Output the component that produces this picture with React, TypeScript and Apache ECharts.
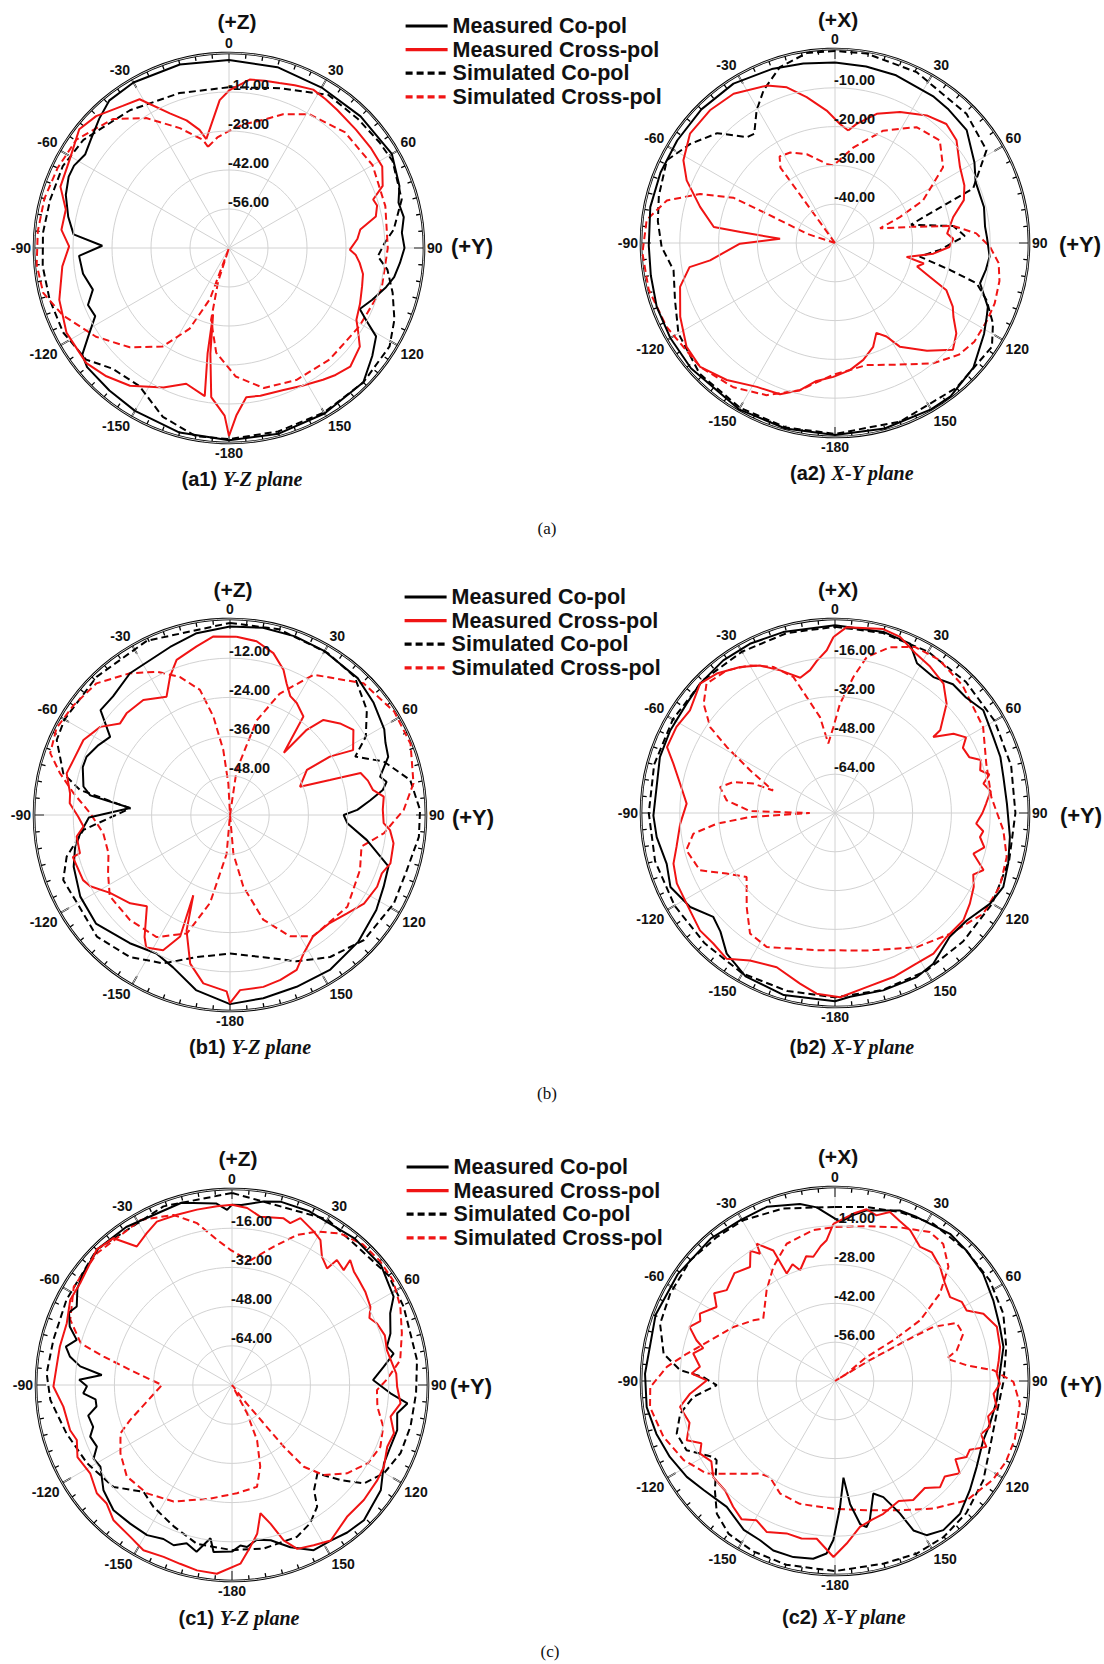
import React, { useEffect, useRef } from 'react';
import * as echarts from 'echarts';

// ---------- data: [angle (deg), level (dB)] ----------
// (a1) Y-Z plane, radial ticks every 14 dB
const a1MeasCo: number[][] = [[0,-2.5],[15,-2.8],[30,-3.5],[45,-3.2],[60,-2.5],[66,-4.2],[70,-4.9],[75,-7],[80,-6.3],[85,-7.7],[90,-7],[95,-8.4],[100,-9.8],[104,-11.9],[110,-15.4],[115,-18.2],[118,-14],[121,-8.4],[127,-5.6],[135,-1.8],[150,-1.4],[165,-1],[180,-1],[-165,-1.4],[-150,-2.5],[-140,-3.2],[-130,-3.5],[-126,-4.9],[-122,-10.5],[-117,-16.1],[-112,-15.4],[-107,-18.9],[-100,-16.8],[-93,-16.1],[-89,-24.5],[-85,-14],[-79,-11.2],[-72,-8.4],[-66,-7],[-62,-7],[-57,-8.4],[-52,-7],[-45,-4.2],[-39,-1.8],[-30,-1.4],[-15,-1.8],[0,-2.5]];
const a1MeasCross: number[][] = [[-11.8,-30.1],[-3.6,-16.8],[0.2,-13.3],[7,-9.1],[12,-8.6],[17,-8.1],[22,-7],[28,-5.6],[33,-6.3],[38,-7],[47,-7.7],[55,-7.7],[62,-7.7],[68,-10.5],[71.4,-15.4],[74,-14.7],[77.9,-16.1],[82,-22.4],[86,-23.8],[90.8,-26.6],[93,-24.5],[96.5,-22.8],[101,-21],[106,-20.3],[110,-19.6],[113,-18.9],[119.4,-17.5],[123,-14.7],[127,-11.2],[134.4,-9.1],[140,-10.5],[144.5,-11.9],[152,-14],[159,-15.4],[168,-15.8],[173.4,-16.1],[177.5,-9.8],[180,-2.5],[-178.5,-9.8],[-173.2,-16.1],[-170,-31.5],[-166.5,-45.5],[-168.5,-31.5],[-170.7,-16.1],[-162.5,-18.9],[-154.8,-14.7],[-144.3,-9.1],[-136.3,-6.3],[-128.9,-4.2],[-117.6,-4.2],[-107,-6.3],[-96.3,-9.8],[-89.4,-12.6],[-83.8,-9.5],[-76.7,-9.8],[-70,-5.6],[-61,-4.6],[-51.6,-1.4],[-45.2,-2.8],[-36.8,-6.3],[-31,-7.7],[-23.7,-17.2],[-18.4,-21.7],[-14,-26.3],[-11.8,-30.1]];
const a1SimCo: number[][] = [[0,-12.3],[17.6,-9.8],[33,-4.5],[45,-4.5],[55,-4],[62,-3.5],[74.3,-5.6],[83.6,-10.5],[88,-14],[93.2,-16.5],[97.8,-12.6],[105.3,-9.1],[113.4,-5.3],[121.5,-2.4],[135,-1.8],[150,-1.8],[165,-1.8],[180,-1.4],[-170,-1.4],[-158.6,-4.9],[-147,-10.9],[-136,-9.8],[-128,-4.9],[-117,-3.2],[-106,-3],[-95.6,-2.8],[-85.4,-3],[-74.9,-3.5],[-63.8,-3.5],[-53.4,-4.9],[-35.7,-9.1],[-17.7,-11.6],[0,-12.3]];
const a1SimCross: number[][] = [[-11.7,-32.9],[-6,-30.1],[0,-28],[7,-25.2],[15,-22.4],[22,-18.2],[31,-14],[45,-11.2],[60,-10.5],[75,-11.9],[90,-13],[105,-13.3],[121,-15.4],[138,-16.1],[153,-16.8],[166,-18.2],[177,-23.8],[-173,-32.2],[-166,-43.4],[-162,-57.4],[-160,-70],[-159.5,-50.4],[-154,-37.8],[-146,-27.3],[-135,-19.6],[-123.7,-12.6],[-112,-5.6],[-103.6,-1.4],[-95,-0.7],[-85,-1.1],[-75,-1.4],[-65,-2.1],[-54.6,-2.8],[-42,-7.7],[-32.5,-14.7],[-22.3,-23.5],[-13.5,-30.1],[-11.7,-32.9]];

// (a2) X-Y plane, radial ticks every 10 dB
const a2MeasCo: number[][] = [[0,-3.5],[-10,-3],[-20,-2.3],[-32.5,-1.3],[-45,-1.3],[-57,-1.5],[-68,-1.5],[-79,-1.5],[-90.8,-2],[-100,-1.8],[-109.7,-1.2],[-120,-1],[-131,-0.8],[-150,-0.5],[-165,-0.5],[180,-0.5],[165,-0.5],[150,-0.5],[143,-0.5],[132,-2],[121.4,-5],[116,-6.5],[112.7,-7.3],[108,-10],[105.5,-11.2],[100,-10.5],[95,-10],[88,-10.8],[83.8,-11.1],[76.4,-10.5],[66.6,-10.5],[60,-8.5],[49.4,-5.3],[40,-4.8],[34,-4.5],[20,-4],[10,-3.8],[0,-3.5]];
const a2MeasCross: number[][] = [[6.7,-20.8],[10.3,-18.8],[17.9,-15],[26.4,-12.3],[35.7,-9.5],[43.1,-8],[49.8,-9],[58.7,-12.3],[66,-13.5],[71.6,-15],[77.6,-18.8],[85.2,-21],[88,-19.5],[92,-20.5],[96.2,-24.5],[101,-31.2],[103,-26.5],[106,-28],[109.7,-24],[113,-18.8],[118.4,-15.5],[122,-14],[126.7,-11],[132.2,-9],[139.5,-13.5],[148,-18.5],[151.2,-22.5],[155.3,-24.5],[159.8,-21.5],[166.4,-19],[173.3,-17],[-179.3,-15.5],[-172,-14],[-166.6,-11],[-160,-8.5],[-151.5,-7.8],[-141.7,-5],[-132.6,-2.8],[-125,-3.3],[-115.5,-5.8],[-105.8,-8.5],[-99.4,-12],[-97.9,-17.5],[-90.4,-25.5],[-85.5,-35.8],[-83.4,-25.5],[-82.5,-18.5],[-75,-14],[-67.1,-8.5],[-61.4,-5.5],[-53,-3.2],[-43.3,-3],[-34.2,-3.5],[-23.4,-5.8],[-17.2,-8],[-11,-11.7],[-3.6,-15.8],[2.4,-19.3],[6.7,-20.8]];
const a2SimCo: number[][] = [[0,-0.5],[-8.4,-0.5],[-17.4,-2.5],[-25,-6.5],[-30.6,-10.3],[-36.5,-15],[-39.8,-14.5],[-47,-8.5],[-55.6,-4.8],[-63.8,-1.7],[-75,-3],[-83,-4],[-91.3,-5.3],[-99.6,-7.8],[-109.7,-6.2],[-120,-3.4],[-134,-1.5],[-150,-1],[-165,-0.8],[180,-0.8],[160,-1],[140,-1.3],[123.5,-1.5],[117,-4.3],[110.6,-8.3],[105.9,-12],[103.2,-19.5],[99.1,-27.9],[93.8,-22.9],[86.9,-16.5],[81.8,-19.2],[76.5,-30],[68.4,-11.7],[58.5,-4.2],[45.5,-2.5],[25.5,-1.2],[9.5,-0.5],[0,-0.5]];
const a2SimCross: number[][] = [[-50,-50],[-36,-50],[-35.9,-26],[-32.6,-23.5],[-26.3,-24],[-17.6,-26],[-6,-29.5],[-1.2,-30],[10.8,-25],[23.2,-18.5],[35.1,-13.5],[45.6,-12.2],[55,-16],[64.2,-24.8],[68.2,-32],[72,-37.8],[78,-30],[81.8,-19.2],[86.1,-13.5],[91.5,-10],[97,-7.5],[103,-6.5],[110.7,-6],[117,-6],[125.3,-6],[132,-7],[140.8,-10],[152,-14.5],[165.5,-17.5],[-179,-16],[-166.6,-11],[-155.8,-7],[-144.8,-4.5],[-132.6,-2.8],[-116.5,-1.5],[-104,-0.5],[-93,-0.3],[-83,-1.1],[-75.8,-5.3],[-70,-13],[-66,-21.3],[-66.8,-31],[-71.8,-42.5],[-60,-50],[-50,-50]];

// (b1) Y-Z plane, radial ticks every 12 dB
const b1MeasCo: number[][] = [[0,-2.3],[10,-1.8],[20,-1.8],[30,-2.1],[43,-2.7],[52,-4.2],[61,-6],[65,-7.5],[69.8,-8.4],[75.7,-12.6],[78,-11],[80.7,-12.6],[84,-16.8],[87.7,-21],[90,-25.2],[94,-24],[100.4,-17.4],[108,-9],[115,-8.1],[123,-6.6],[134.6,-4.8],[147,-3.6],[158.8,-3.6],[169.7,-3],[180,-2.1],[-169,-5.4],[-159.5,-10.2],[-152,-12],[-142,-10.2],[-129,-7.2],[-118.6,-7.8],[-108.3,-9.6],[-102,-11.5],[-97,-13.8],[-91,-16.8],[-86,-29.4],[-82,-16.8],[-79,-14.3],[-72,-12.6],[-67.9,-12.6],[-62,-14.4],[-56.9,-16.2],[-51,-9],[-44.6,-9],[-35.2,-6.9],[-19.6,-5.4],[-10.4,-3.4],[0,-2.3]];
const b1MeasCross: number[][] = [[2.1,-5.4],[8.7,-6.2],[15,-8.7],[20.2,-12.6],[23.3,-16.2],[26.9,-19.2],[30.8,-20.1],[36.7,-22.4],[40.9,-34.8],[42,-24.9],[44.5,-19.2],[50.2,-16.2],[55.4,-14.1],[62.2,-17.4],[59.7,-24.6],[59.6,-32.7],[68,-36.9],[70.7,-27.6],[72.2,-18],[76,-16.5],[80,-15.6],[83.2,-12.6],[88,-13.2],[93,-12.9],[95.4,-10.8],[99.8,-9.2],[106.8,-8.7],[111,-10.2],[116,-9.9],[123.5,-10.8],[130,-13.2],[137.3,-15],[145.6,-15],[152,-12],[156.7,-8.4],[163,-7.2],[169,-6.4],[176.7,-6.3],[180,-2.4],[-178.9,-6],[-171,-7.8],[-165,-12.9],[-159.4,-22.2],[-155.4,-33],[-157.7,-19.8],[-153.7,-13.8],[-147.7,-12],[-145,-14.4],[-137.7,-22.2],[-131.5,-19.2],[-123,-16.2],[-117,-12],[-113.9,-10.8],[-105,-10.2],[-104.3,-12.6],[-98,-12.6],[-94.5,-15],[-90.6,-13.5],[-85.8,-10.8],[-82.3,-10.6],[-75.7,-8.4],[-70.7,-9.2],[-62.9,-9.6],[-55.8,-12],[-50.2,-16.2],[-45.5,-15.6],[-37,-15.9],[-28.2,-18.9],[-23.4,-13.8],[-19,-9.8],[-11.2,-7.4],[-5.3,-5.1],[2.1,-5.4]];
const b1SimCo: number[][] = [[0,-1.2],[14.7,-1.2],[31,-2.1],[42,-3],[52.5,-7.2],[60,-12],[65,-17.7],[70.8,-10.2],[79,-3.8],[88.5,-1.8],[96.6,-1.8],[107.3,-3.3],[118.4,-3],[133,-3.9],[144.8,-6.8],[155.6,-10.8],[166.8,-15.3],[180,-17.6],[-166.8,-15.3],[-155.8,-10.2],[-144.8,-6.8],[-132.4,-4.8],[-120.5,-6],[-111.3,-5.2],[-104.3,-8.4],[-95.8,-14.9],[-86.2,-29.4],[-80.5,-13.4],[-76,-7.4],[-66.6,-2.2],[-60,-1.5],[-44,-1.2],[-25.5,-0.9],[0,-1.2]];
const b1SimCross: number[][] = [[0,-60],[3,-60],[8.4,-46.2],[15.7,-30],[22.3,-19.8],[30.8,-10],[45.4,-2.6],[57.8,-0.6],[68.5,-0.6],[80.2,-3],[88.3,-6.8],[96.8,-12.6],[103.5,-18.6],[112.9,-16.8],[128,-14.4],[145.6,-15],[153.7,-18.6],[162.4,-26.4],[169.5,-37.8],[175,-48],[180,-60],[-175,-48],[-167.2,-32.4],[-160,-21.4],[-149,-16.4],[-136.4,-15.6],[-124,-15.6],[-115.6,-18.6],[-107.5,-21],[-98.2,-20.8],[-89.3,-17.2],[-82,-11.6],[-76.2,-6.4],[-71,-1.8],[-63.4,-0.6],[-55,-1.5],[-45.4,-2.6],[-35.2,-6.9],[-27,-10.8],[-20,-15],[-13.5,-20.6],[-9.6,-29.4],[-5.9,-40],[-3,-50.4],[0,-60]];

// (b2) X-Y plane, radial ticks every 16 dB
const b2MeasCo: number[][] = [[0,-2.6],[15,-2.7],[23.9,-3.6],[28.7,-9.6],[35.9,-10.8],[42.5,-8],[48.6,-8],[55.3,-5.6],[64.4,-7.6],[71.3,-8],[78,-9],[86.9,-9],[97.8,-7.2],[106.3,-5.6],[113.7,-4.2],[120.3,-5.9],[129.2,-9.9],[137.2,-10.4],[146.9,-5.8],[153.5,-4.4],[164.8,-4.2],[175.3,-4],[180,-2.4],[-164.3,-2],[-151.3,-3.2],[-142.4,-6.8],[-136,-12],[-130.5,-14],[-123,-8.8],[-114.2,-5.6],[-106.8,-7.5],[-97.7,-5.8],[-90.8,-5.1],[-80.7,-5.6],[-72.3,-4.2],[-63.4,-4],[-53.6,-4],[-46.2,-2.9],[-36.2,-2],[-26.7,-1.9],[-16,-2.4],[0,-2.6]];
const b2MeasCross: number[][] = [[-0.5,-7.4],[3.6,-3.2],[14.7,-1.6],[20.3,-2.6],[27.1,-6.4],[33,-8],[40,-10.4],[45.6,-15.6],[51.8,-24.8],[52.3,-28.8],[56.2,-21.2],[60,-17.6],[63,-20.8],[67.5,-20],[70,-16],[73.6,-17.6],[76,-14.4],[78.8,-17.6],[82,-15.2],[86.5,-17.6],[90,-19.2],[94.3,-21.6],[97,-18.4],[99.4,-19.4],[103,-16.8],[106.4,-20.5],[111,-14.4],[114,-17.6],[118,-15.2],[123.9,-13],[129.9,-11],[138,-11.2],[145,-9.2],[151.5,-9.4],[160.4,-8.2],[169.7,-7],[178.4,-4],[-174.2,-5.1],[-168.4,-8.2],[-159.3,-12],[-150,-9.8],[-143.4,-5.1],[-137,-6.4],[-131,-6.2],[-121.4,-8.3],[-114,-8.6],[-107.4,-10.2],[-102,-13.2],[-94,-16],[-86.4,-18.7],[-79.3,-15],[-73,-10.3],[-68.6,-5.6],[-61.5,-5.6],[-54.7,-6.7],[-46.2,-2.9],[-40.3,-4.6],[-33,-8.2],[-27,-11.7],[-21,-17],[-14.4,-22.4],[-9.9,-20.2],[-6.8,-16.8],[-2.9,-12.8],[-0.5,-7.4]];
const b2SimCo: number[][] = [[0,-3.2],[15,-3.2],[30,-3.2],[45,-3.6],[60,-4],[75,-4.8],[90,-5.6],[105,-5.6],[120,-5.2],[135,-5.2],[150,-4.8],[165,-4.4],[180,-4],[-165,-4],[-150,-3.6],[-135,-4],[-120,-3.6],[-105,-3.2],[-90,-3.2],[-75,-2.8],[-60,-2.8],[-45,-2.8],[-30,-3.2],[-15,-3.2],[0,-3.2]];
const b2SimCross: number[][] = [[-5.5,-51.2],[-1.1,-44.6],[2.6,-34.9],[7.7,-23.4],[11.5,-14.4],[18.3,-8],[25.7,-4],[34.2,-3.6],[45,-5.6],[59.9,-9.4],[72,-14.4],[84.2,-15.2],[95.9,-10.2],[104.4,-6.9],[114,-5.6],[124.2,-6.1],[136.4,-11.2],[148.6,-15.2],[167,-21.8],[-172.4,-22.9],[-153,-18],[-144.8,-19.2],[-136.8,-26.8],[-125.9,-35],[-119.2,-28.8],[-113,-19.5],[-104,-16.8],[-98.3,-21],[-95.2,-31],[-92.7,-44.8],[-90,-69.6],[-88.7,-44.8],[-83.3,-35],[-77.3,-31.4],[-73,-36.2],[-70.2,-44.2],[-70,-52.8],[-63.3,-40.8],[-58.6,-27.7],[-55.5,-17.6],[-50.3,-9.6],[-44.8,-4.8],[-37.2,-6.2],[-29.9,-9.8],[-22.9,-14.6],[-17,-21.4],[-13.7,-30.8],[-8.9,-40],[-5.5,-51.2]];

// (c1) Y-Z plane, radial ticks every 16 dB
const c1MeasCo: number[][] = [[0,-6.4],[-1.6,-8.5],[-5,-5.6],[-15.5,-2.8],[-33.8,-2.4],[-44.3,-2],[-53,-4],[-58,-5.6],[-63.2,-9],[-66,-7.2],[-70.2,-9.6],[-73.8,-14],[-77,-10.4],[-80,-12.8],[-83,-17.6],[-85.6,-26.7],[-88,-17.6],[-90.5,-20.8],[-93.2,-19.2],[-96,-24],[-99,-24],[-102,-20],[-106.8,-20.8],[-110,-18.4],[-114.5,-19.4],[-118,-16],[-121.8,-16.8],[-129.3,-12.2],[-136.6,-9.6],[-143.7,-9.8],[-150.5,-9.6],[-156,-11.2],[-160,-10.4],[-164,-12.8],[-168,-10.4],[-172,-16.8],[-173.7,-11.4],[180,-12],[177,-14.4],[174.7,-13.6],[171,-16],[166,-14.7],[160.2,-9.6],[153.7,-4.8],[147.6,-4.8],[142,-3.6],[135.7,-2.9],[125.3,-5.6],[117.3,-10.2],[111.3,-10.6],[105.3,-10.1],[99.7,-11.6],[96,-8],[93,-15.2],[88,-22.4],[83.1,-17.6],[79,-12.8],[76,-14.8],[72,-12],[65.6,-9.1],[61.3,-4.8],[51.3,-2],[40,-2],[24,-2.4],[14.8,-2.6],[9.8,-4],[3,-6.4],[0,-6.4]];
const c1MeasCross: number[][] = [[0,-6.4],[4.9,-7.5],[9.6,-10.4],[17.2,-8.8],[19.8,-9.8],[22.3,-6.4],[28,-9],[31.4,-10.7],[35,-16],[39.2,-18.6],[40,-13.4],[44.2,-14.6],[43.4,-9.8],[47,-12],[50.3,-12.8],[55,-13.6],[60.5,-15.1],[64,-17.6],[67,-15.7],[72,-14.4],[77.3,-15.2],[81,-14.4],[86,-12.8],[90.6,-12.6],[96.2,-10.8],[101.3,-14],[106.6,-11],[111.7,-11.8],[118.3,-9.6],[123.2,-9.1],[131.1,-8.6],[138.9,-8.6],[147.6,-4.8],[153,-6.6],[158.3,-8],[161.6,-13.2],[164.5,-21.3],[167.5,-26.4],[170.4,-18.4],[173.5,-13.6],[177.3,-7],[-175.4,-2.7],[-169.3,-3],[-163.8,-4],[-158.3,-4.5],[-151.8,-3.5],[-146.2,-5.4],[-138.8,-6.6],[-133.4,-9.6],[-128.7,-9.3],[-121.9,-11.8],[-115,-10.4],[-109.5,-12.8],[-105.6,-11.4],[-97.3,-10.6],[-90.5,-7.1],[-84,-8],[-77.4,-8],[-69.5,-8],[-62.3,-5.4],[-56.2,-5.4],[-45,-1.9],[-38.9,-3],[-34.5,-11.4],[-29.3,-8.9],[-24.7,-6.6],[-17.9,-7],[-11.3,-7],[-4.8,-6.8],[0,-6.4]];
const c1SimCo: number[][] = [[0,-1.6],[-21,-1.9],[-45,-1.9],[-62.7,-4],[-75.8,-4.8],[-86.4,-4.2],[-94.7,-5.6],[-106.3,-9.6],[-118.4,-12.8],[-130.7,-16.2],[-140.4,-23.4],[-147.2,-20.8],[-157.6,-17.6],[-167.5,-13.6],[180,-12.6],[169,-12],[156.8,-12.6],[150.5,-15.2],[145,-19.4],[142,-25.6],[136,-29.8],[131.2,-21.1],[126.7,-12.8],[120,-8.2],[112,-5.8],[103,-5.2],[92.6,-4.8],[82.3,-3.8],[65.5,-3],[55,-2],[30,-2],[0,-1.6]];
const c1SimCross: number[][] = [[8,-28.8],[16.8,-21],[23.4,-13.3],[29,-8.4],[35.5,-4],[42.9,-1.6],[49.9,-1.2],[57,-1.6],[65,-4.2],[73,-7.5],[81.6,-10.6],[88,-16.8],[92,-20.8],[98.5,-20],[105.4,-16],[112.6,-14.4],[120,-16],[127.5,-20.8],[134.5,-27.6],[138.7,-35.6],[140,-47.2],[140.4,-59.7],[142,-72],[146,-80],[152,-66.9],[155.6,-55.2],[160.9,-44.8],[166.2,-37.2],[177.4,-35.8],[-169.2,-32.8],[-153.4,-26.8],[-141.9,-23.8],[-131,-23.1],[-121.5,-26.6],[-113.4,-30.4],[-109,-36],[-90,-51.4],[-81.6,-38],[-77.5,-26.4],[-74.6,-16],[-68,-8.8],[-58.2,-4],[-45.7,-3],[-29,-3],[-19,-6.6],[-12.2,-12.4],[-5.9,-20.4],[-0.7,-24.8],[8,-28.8]];

// (c2) X-Y plane, radial ticks every 14 dB
const c2MeasCo: number[][] = [[0,-11.4],[1.8,-12.6],[6.3,-9.8],[10.5,-7.4],[20.8,-4.2],[26.5,-3.9],[38,-2.6],[45.2,-3.2],[54.1,-4],[63,-5.9],[71.9,-7.4],[78.6,-8],[87.5,-10.5],[96.8,-11.2],[105.4,-12],[111.8,-12.4],[121.3,-10.2],[129,-7.4],[136.7,-4.2],[144,-3.5],[149.3,-5.3],[152.3,-9.1],[153.9,-16.8],[157.4,-24.6],[161.2,-27.1],[166,-18.2],[167.8,-16.1],[170,-17.5],[173,-25.2],[175,-35],[177.7,-24.5],[-179.4,-12.6],[-177.2,-7.7],[-173,-5.4],[-166.7,-4.7],[-160,-4.9],[-154.8,-6.5],[-148.5,-7],[-139.3,-10.1],[-129.7,-8.4],[-122.9,-6.3],[-114.7,-4.4],[-106.5,-2.8],[-97.9,-1.4],[-87.8,-1.4],[-69.7,-1],[-55.9,-1.4],[-41,-1.8],[-30.6,-2.7],[-21.4,-2.5],[-11.2,-4.9],[-6,-7],[0,-11.4]];
const c2MeasCross: number[][] = [[-0.6,-13.3],[6.3,-9.2],[10.4,-7],[14,-8.4],[18,-5.9],[22,-7.7],[26.5,-9.2],[32.4,-12.7],[37,-11.9],[42.6,-14],[48,-16.8],[53.9,-18.6],[58,-16.1],[61.8,-16.1],[65.6,-11.2],[71.5,-8.4],[78.4,-9.2],[83,-10.5],[87.4,-11.6],[91,-10.5],[94.6,-12.6],[99.1,-10.9],[103,-13.3],[106.5,-11.7],[110,-14],[113.5,-10.4],[117,-15.4],[120,-15.2],[123,-18.2],[126.5,-14],[131,-17.5],[135.3,-16.1],[140,-19.6],[146.7,-18.6],[152,-21],[160,-19],[165,-18.2],[170.3,-16.6],[175.9,-11.2],[-179.5,-6.5],[-173.4,-12.7],[-168,-11.9],[-162.4,-12.3],[-155.7,-10.2],[-150.6,-12.3],[-146,-9.8],[-141,-11.6],[-135,-14],[-128.3,-14],[-123,-16.8],[-118.3,-14.7],[-115,-16.8],[-111.8,-12.4],[-106,-15.4],[-99.5,-13.3],[-95,-17.5],[-89.7,-23.8],[-87,-18.2],[-84,-21],[-79,-17.9],[-76,-21],[-73.6,-17.9],[-69.6,-14],[-66,-16.8],[-63.5,-15.5],[-58,-19.6],[-54,-16.1],[-50,-19],[-43,-16.8],[-36.7,-18.7],[-33,-14],[-30.5,-16.7],[-29.7,-13],[-25.3,-17.9],[-24.2,-27.5],[-20,-25.2],[-17.5,-28.1],[-13,-23.8],[-9.9,-24.5],[-6,-21],[-3.4,-19.1],[-0.6,-13.3]];
const c2SimCo: number[][] = [[0,-7.2],[10.3,-6.2],[21,-4.7],[32,-3.1],[45.2,-3.2],[57,-3.4],[68.2,-4.6],[78.8,-7],[90.2,-9.2],[101.4,-10.5],[113,-9.2],[123.8,-5.6],[135.2,-2.8],[145.2,-1.4],[154.7,-1.1],[165,-1.8],[180,-1.4],[-165,-1.4],[-154.2,-1.8],[-145.2,-2.8],[-138.3,-5.9],[-132.3,-11.4],[-123.8,-18.6],[-122,-18.2],[-115,-10.9],[-108.4,-9.8],[-101.9,-12.9],[-96.4,-18.6],[-92,-27.3],[-88.3,-22.4],[-86,-14],[-81,-7.4],[-71.9,-3.6],[-62.1,-2.7],[-50.2,-2],[-39.4,-2.8],[-29.7,-3.2],[-16.7,-5],[0,-7.2]];
const c2SimCross: number[][] = [[-49,-35.7],[-37,-29],[-28.4,-23.2],[-19.4,-17.5],[-8.2,-15],[0,-14.4],[11.6,-13],[23,-9.8],[32.5,-6.3],[38.3,-7],[44.8,-11.9],[50.2,-20.7],[54.5,-32.2],[55.1,-44.3],[52.8,-55.7],[57.8,-65.1],[58,-70],[59,-56],[60.4,-40.3],[61.2,-29.4],[64.5,-21.4],[69.8,-20.7],[75.9,-24.7],[78.7,-28.9],[83.2,-22.1],[86.1,-12.7],[90.3,-5.6],[97,-2.8],[108,-1.8],[115.3,-1.8],[122,-2.8],[132.2,-5.9],[142.4,-11.9],[153.3,-17.8],[166.2,-22],[-179.3,-23.9],[-164,-23.9],[-154,-24.8],[-145.9,-28.1],[-141,-27],[-132.3,-20.3],[-125.8,-12.9],[-117.6,-8.4],[-108,-4.9],[-98,-2.6],[-91.9,-3.3],[-85.2,-9.1],[-79.6,-15.6],[-72,-22.6],[-62,-28.5],[-53.4,-33.3],[-49,-35.7]];

const SERIES_NAMES = ['Measured Co-pol', 'Measured Cross-pol', 'Simulated Co-pol', 'Simulated Cross-pol'];
const ROW_LABELS = ['(a)', '(b)', '(c)'];

const SANS = "'Liberation Sans', Arial, Helvetica, sans-serif";
const SERIF = "'Liberation Serif', 'Times New Roman', serif";
const RED = '#f01414';
const INK = '#111';

const panels = [
  { center: [229, 248], radius: 195, step: 14, top: '(+Z)', topAt: [237, 21], yAt: [472, 246], tag: '(a1)', plane: 'Y-Z plane', capAt: [242, 479], data: [a1MeasCo, a1MeasCross, a1SimCo, a1SimCross] },
  { center: [835, 243], radius: 194, step: 10, top: '(+X)', topAt: [838, 19], yAt: [1080, 244], tag: '(a2)', plane: 'X-Y plane', capAt: [852, 473], data: [a2MeasCo, a2MeasCross, a2SimCo, a2SimCross] },
  { center: [230, 815], radius: 196, step: 12, top: '(+Z)', topAt: [233, 589], yAt: [473, 817], tag: '(b1)', plane: 'Y-Z plane', capAt: [250, 1047], data: [b1MeasCo, b1MeasCross, b1SimCo, b1SimCross] },
  { center: [835, 813], radius: 194, step: 16, top: '(+X)', topAt: [838, 589], yAt: [1081, 815], tag: '(b2)', plane: 'X-Y plane', capAt: [852, 1047], data: [b2MeasCo, b2MeasCross, b2SimCo, b2SimCross] },
  { center: [232, 1385], radius: 196, step: 16, top: '(+Z)', topAt: [238, 1158], yAt: [471, 1386], tag: '(c1)', plane: 'Y-Z plane', capAt: [239, 1618], data: [c1MeasCo, c1MeasCross, c1SimCo, c1SimCross] },
  { center: [835, 1381], radius: 194, step: 14, top: '(+X)', topAt: [838, 1156], yAt: [1081, 1384], tag: '(c2)', plane: 'X-Y plane', capAt: [844, 1617], data: [c2MeasCo, c2MeasCross, c2SimCo, c2SimCross] },
];

const legends = [
  { left: 399, top: 10 },
  { left: 398, top: 581 },
  { left: 400, top: 1151 },
];
const rowLabelAt = [[547, 528], [547, 1093], [550, 1651]];

const seriesStyles = [
  { color: '#000', type: 'solid' },
  { color: RED, type: 'solid' },
  { color: '#000', type: [7, 4] },
  { color: RED, type: [7, 4] },
];

function buildOption() {
  const polar: any[] = [];
  const angleAxis: any[] = [];
  const radiusAxis: any[] = [];
  const series: any[] = [];
  const graphic: any[] = [];

  panels.forEach((p, i) => {
    const min = -5 * p.step;
    polar.push({ center: p.center, radius: p.radius });
    angleAxis.push({
      polarIndex: i,
      type: 'value',
      min: 0,
      max: 360,
      interval: 30,
      startAngle: 90,
      clockwise: true,
      axisLine: { show: true, lineStyle: { color: '#000', width: 2.6 } },
      axisTick: { show: true, inside: true, length: 10, lineStyle: { color: '#000', width: 1.7 } },
      minorTick: { show: true, splitNumber: 6, length: 5, lineStyle: { color: '#000', width: 1.3 } },
      splitLine: { show: true, lineStyle: { color: '#d2d2d2', width: 1 } },
      axisLabel: {
        margin: 3,
        color: INK,
        fontFamily: SANS,
        fontSize: 14,
        lineHeight: 14,
        fontWeight: 'bold',
        formatter: (v: number) => (v >= 360 ? '' : v <= 150 ? String(v) : String(v - 360)),
      },
    });
    radiusAxis.push({
      polarIndex: i,
      type: 'value',
      min,
      max: 0,
      interval: p.step,
      axisLine: { show: false },
      axisTick: { show: false },
      splitLine: { show: true, lineStyle: { color: '#d2d2d2', width: 1 } },
      axisLabel: {
        margin: 1,
        color: INK,
        fontFamily: SANS,
        fontSize: 14.5,
        fontWeight: 'bold',
        align: 'left',
        verticalAlign: 'bottom',
        formatter: (v: number) => (v <= min + 1e-9 || v >= -1e-9 ? '' : v.toFixed(2)),
      },
      z: 5,
    });

    const order = [2, 3, 0, 1];
    order.forEach((k) => {
      const st = seriesStyles[k];
      series.push({
        type: 'line',
        name: SERIES_NAMES[k],
        coordinateSystem: 'polar',
        polarIndex: i,
        symbol: 'none',
        showSymbol: false,
        silent: true,
        smooth: false,
        z: 3,
        lineStyle: { color: st.color, width: 2, type: st.type },
        itemStyle: { color: st.color },
        data: p.data[k].map(([ang, db]) => [db, ang < 0 ? ang + 360 : ang]),
      });
    });

    graphic.push({
      type: 'text', x: p.topAt[0], y: p.topAt[1],
      style: { text: p.top, font: `bold 21px ${SANS}`, fill: INK, align: 'center', verticalAlign: 'middle' },
    });
    graphic.push({
      type: 'text', x: p.yAt[0], y: p.yAt[1],
      style: { text: '(+Y)', font: `bold 22px ${SANS}`, fill: INK, align: 'center', verticalAlign: 'middle' },
    });
    graphic.push({
      type: 'text', x: p.capAt[0], y: p.capAt[1],
      style: {
        text: `{t|${p.tag}} {p|${p.plane}}`,
        font: `bold 20px ${SANS}`,
        fill: INK,
        align: 'center',
        verticalAlign: 'middle',
        rich: {
          t: { font: `bold 20px ${SANS}`, fill: INK },
          p: { font: `italic bold 20px ${SERIF}`, fill: INK },
        },
      },
    });
  });

  ROW_LABELS.forEach((t, r) => {
    graphic.push({
      type: 'text', x: rowLabelAt[r][0], y: rowLabelAt[r][1],
      style: { text: t, font: `17px ${SERIF}`, fill: INK, align: 'center', verticalAlign: 'middle' },
    });
  });

  const legend = legends.map((l) => ({
    orient: 'vertical',
    left: l.left,
    top: l.top,
    itemWidth: 42,
    itemHeight: 12,
    itemGap: 1.6,
    selectedMode: false,
    data: SERIES_NAMES,
    lineStyle: { width: 3.2 },
    itemStyle: { opacity: 0 },
    textStyle: { fontFamily: SANS, fontSize: 21.5, fontWeight: 'bold', color: INK, lineHeight: 22 },
  }));

  return {
    animation: false,
    backgroundColor: '#fff',
    polar,
    angleAxis,
    radiusAxis,
    legend,
    series,
    graphic,
  };
}

export default function App() {
  const ref = useRef<HTMLDivElement>(null);
  useEffect(() => {
    if (!ref.current) return;
    const chart = echarts.init(ref.current, undefined, { renderer: 'svg' });
    chart.setOption(buildOption() as any);
    return () => chart.dispose();
  }, []);
  return (
    <div
      ref={ref}
      style={{ position: 'absolute', left: 0, top: 0, width: 1104, height: 1664, background: '#fff' }}
    />
  );
}
